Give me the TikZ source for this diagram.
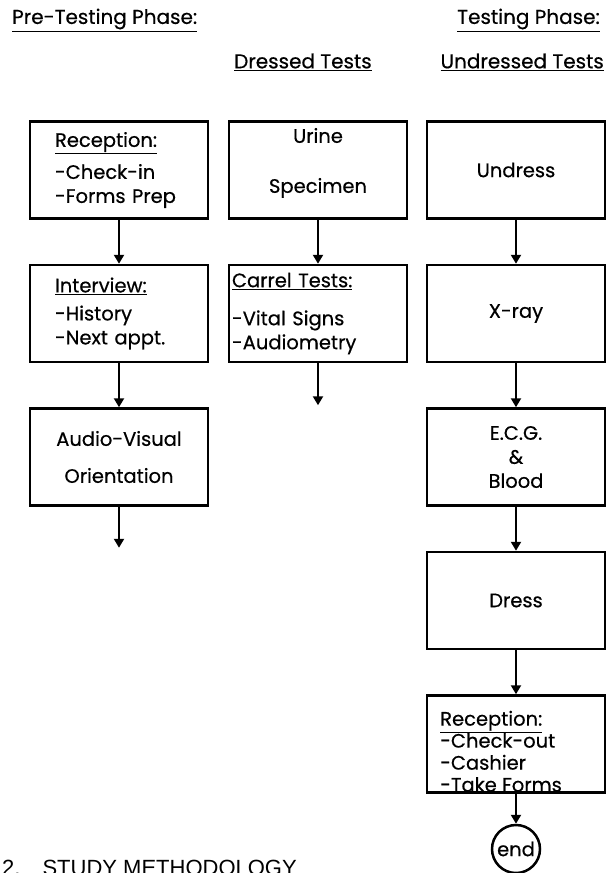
\documentclass[tikz,border=0pt]{standalone}
\usepackage{fontspec}
\setmainfont{Poppins}[FakeBold=0.5]
\newfontfamily\secfont{Liberation Sans}
\usepackage{tikz}
\usetikzlibrary{arrows.meta,positioning}

\begin{document}
\begin{tikzpicture}[x=1pt,y=-1pt,
  box/.style={draw,line width=2.5pt,minimum width=178pt,minimum height=97pt,
    inner sep=0pt,align=center,font=\fontsize{19.5}{24}\selectfont},
  listbox/.style={box,align=left,text width=#1},
  head/.style={inner sep=0pt,font=\fontsize{20}{24}\selectfont},
  arr/.style={line width=2.2pt,-{Triangle[width=10pt,length=9pt]}},
  node distance=44pt]
\useasboundingbox (0,0) rectangle (613,873);

% headings
\node[head,anchor=west] (pretest) at (12,20) {\underline{Pre-Testing Phase:}};
\node[head,anchor=east] (testing) at (600,20) {\underline{Testing Phase:}};
\node[head,anchor=east] (undrhead) at (604,62) {\underline{Undressed Tests}};
\node[head,anchor=west] (drhead) at (234,62) {\underline{Dressed Tests}};

% pre-testing column
\node[listbox=128pt] (recep) at (119,170) {\underline{Reception:}\\[8pt]-Check-in\\-Forms Prep};
\node[listbox=128pt,below=of recep] (intvw) {\underline{Interview:}\\[4pt]-History\\-Next appt.};
\node[box,below=of intvw] (avorient) {Audio-Visual\\[13pt]Orientation};
\coordinate[below=41pt of avorient] (avout);

% dressed tests
\node[box] (urine) at (318,170) {Urine\\[26pt]Specimen\\[-12pt]\strut};
\node[listbox=172pt,below=of urine] (carrel) {\underline{Carrel Tests:}\\[14pt]-Vital Signs\\-Audiometry};
\coordinate[below=42pt of carrel] (carrelout);

% undressed tests
\node[box] (undress) at (516,170) {Undress};
\node[box,below=of undress] (xray) {X-ray};
\node[box,below=of xray] (ecg) {E.C.G.\\\&\\Blood};
\node[box,below=of ecg] (dress) {Dress};
\node[box,below=of dress] (recepout) {};
\node[head,align=left,anchor=south west,font=\fontsize{19.5}{22}\selectfont] (recepouttxt)
  at (440,792) {\underline{Reception:}\\-Check-out\\-Cashier\\-Take Forms};
\node[draw,circle,line width=2.5pt,minimum size=48pt,inner sep=0pt,
  font=\fontsize{19.5}{24}\selectfont] (endnode) at (516,849) {end};

\draw[arr] (recep) -- (intvw);
\draw[arr] (intvw) -- (avorient);
\draw[arr] (avorient) -- (avout);
\draw[arr] (urine) -- (carrel);
\draw[arr] (carrel) -- (carrelout);
\draw[arr] (undress) -- (xray);
\draw[arr] (xray) -- (ecg);
\draw[arr] (ecg) -- (dress);
\draw[arr] (dress) -- (recepout);
\draw[arr] (recepout) -- (endnode);

\node[anchor=north west,inner sep=0pt,font=\secfont\fontsize{22}{26}\selectfont] (method)
  at (2,860) {2.\quad STUDY METHODOLOGY};
\end{tikzpicture}
\end{document}
